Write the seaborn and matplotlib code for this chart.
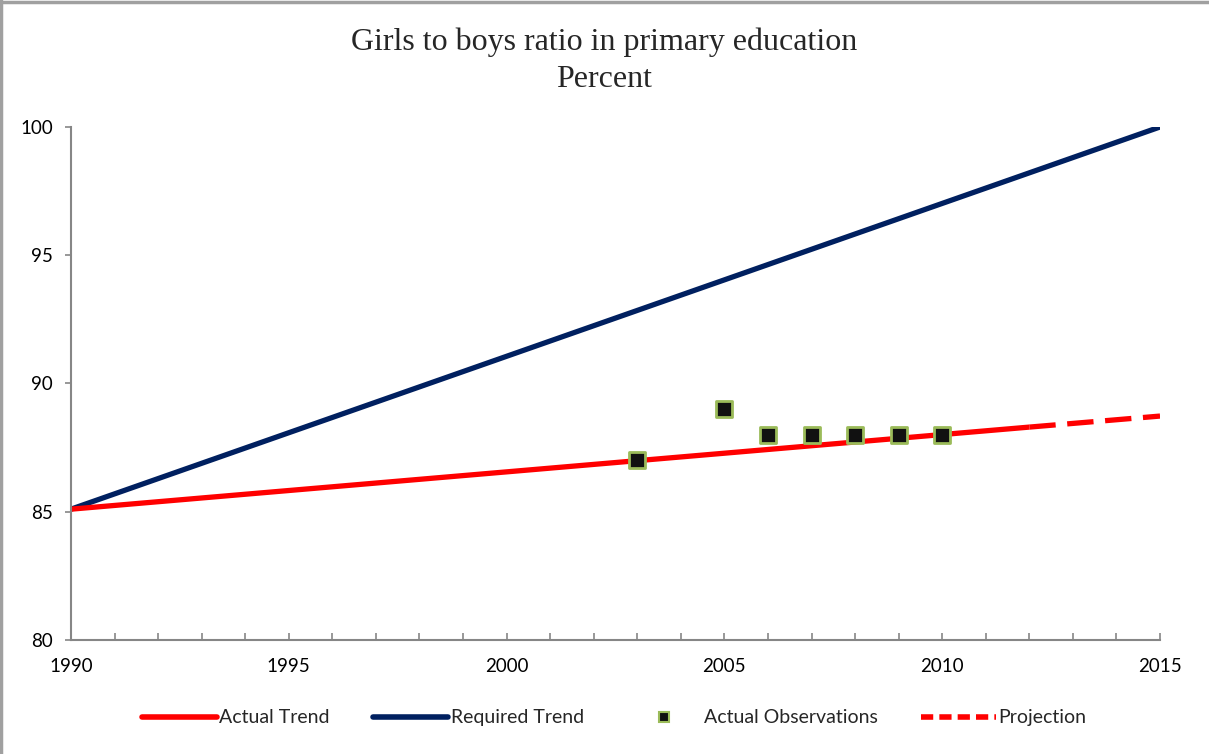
import matplotlib
matplotlib.use("Agg")
import matplotlib.pyplot as plt
from matplotlib.lines import Line2D
from matplotlib.ticker import MultipleLocator
import seaborn as sns
import pandas as pd

# Trend lines (year, percent)
actual_years = [1990, 2012]
actual_values = [85.1, 88.3]
projection_years = [2012, 2015]
projection_values = [88.3, 88.73]
required_years = [1990, 2015]
required_values = [85.1, 100.0]

# Observed ratios
obs_years = [2003, 2005, 2006, 2007, 2008, 2009, 2010]
obs_values = [87, 89, 88, 88, 88, 88, 88]

RED = "#FF0000"
NAVY = "#002060"
GREEN = "#9BBB59"

sns.set_theme(style="white")
plt.rcParams["font.family"] = ["Lato", "DejaVu Sans"]

fig = plt.figure(figsize=(12.09, 7.54), dpi=100)
ax = fig.add_axes([0.0587, 0.1512, 0.9008, 0.6804])

# Frame lines along the top and left edges of the figure
fig.add_artist(Line2D([0.001, 0.001], [0, 1], transform=fig.transFigure,
                      color="#A0A0A0", lw=2.5))
fig.add_artist(Line2D([0, 1], [0.998, 0.998], transform=fig.transFigure,
                      color="#A0A0A0", lw=2.5))

sns.lineplot(x=required_years, y=required_values, ax=ax, color=NAVY, lw=3.8,
             solid_capstyle="butt")
sns.lineplot(x=actual_years, y=actual_values, ax=ax, color=RED, lw=3.8,
             solid_capstyle="butt")
sns.lineplot(x=projection_years, y=projection_values, ax=ax, color=RED, lw=3.8,
             dashes=False)
ax.lines[-1].set_linestyle((0, (5, 2.2)))
ax.lines[-1].set_dash_capstyle("butt")

obs = pd.DataFrame({"year": obs_years, "value": obs_values})
sns.scatterplot(data=obs, x="year", y="value", ax=ax, marker="s", s=120,
                color="#111111", edgecolor=GREEN, linewidth=2, zorder=5)

ax.set_xlim(1990, 2015)
ax.set_ylim(80, 100)
ax.xaxis.set_major_locator(MultipleLocator(5))
ax.xaxis.set_minor_locator(MultipleLocator(1))
ax.yaxis.set_major_locator(MultipleLocator(5))
ax.set_xlabel("")
ax.set_ylabel("")

for side in ("top", "right"):
    ax.spines[side].set_visible(False)
for side in ("left", "bottom"):
    ax.spines[side].set_color("#868686")
    ax.spines[side].set_linewidth(1.5)

ax.tick_params(axis="x", which="both", direction="in", length=5, width=1.2,
               color="#868686", labelsize=13.5, pad=13, bottom=True)
ax.tick_params(axis="y", which="major", direction="out", length=4, width=1.2,
               color="#868686", labelsize=13.5, pad=9, left=True)
for lab in ax.get_xticklabels() + ax.get_yticklabels():
    lab.set_color("black")

fig.text(0.5, 0.944, "Girls to boys ratio in primary education", ha="center",
         va="center", fontsize=23, family="Liberation Serif")
fig.text(0.5, 0.895, "Percent", ha="center", va="center", fontsize=23,
         family="Liberation Serif")

handles = [
    Line2D([], [], color=RED, lw=4),
    Line2D([], [], color=NAVY, lw=4),
    Line2D([], [], ls="none", marker="s", markersize=7, markerfacecolor="#111111",
           markeredgecolor=GREEN, markeredgewidth=1.5),
    Line2D([], [], color=RED, lw=4, ls=(0, (2.2, 1.1))),
]
labels = ["Actual Trend", "Required Trend", "Actual Observations", "Projection"]
fig.legend(handles, labels, loc="center", bbox_to_anchor=(0.508, 0.048), ncol=4,
           frameon=False, fontsize=14, handlelength=3.85, handletextpad=0.15,
           columnspacing=2.2)

fig.savefig("out.png", dpi=100)
